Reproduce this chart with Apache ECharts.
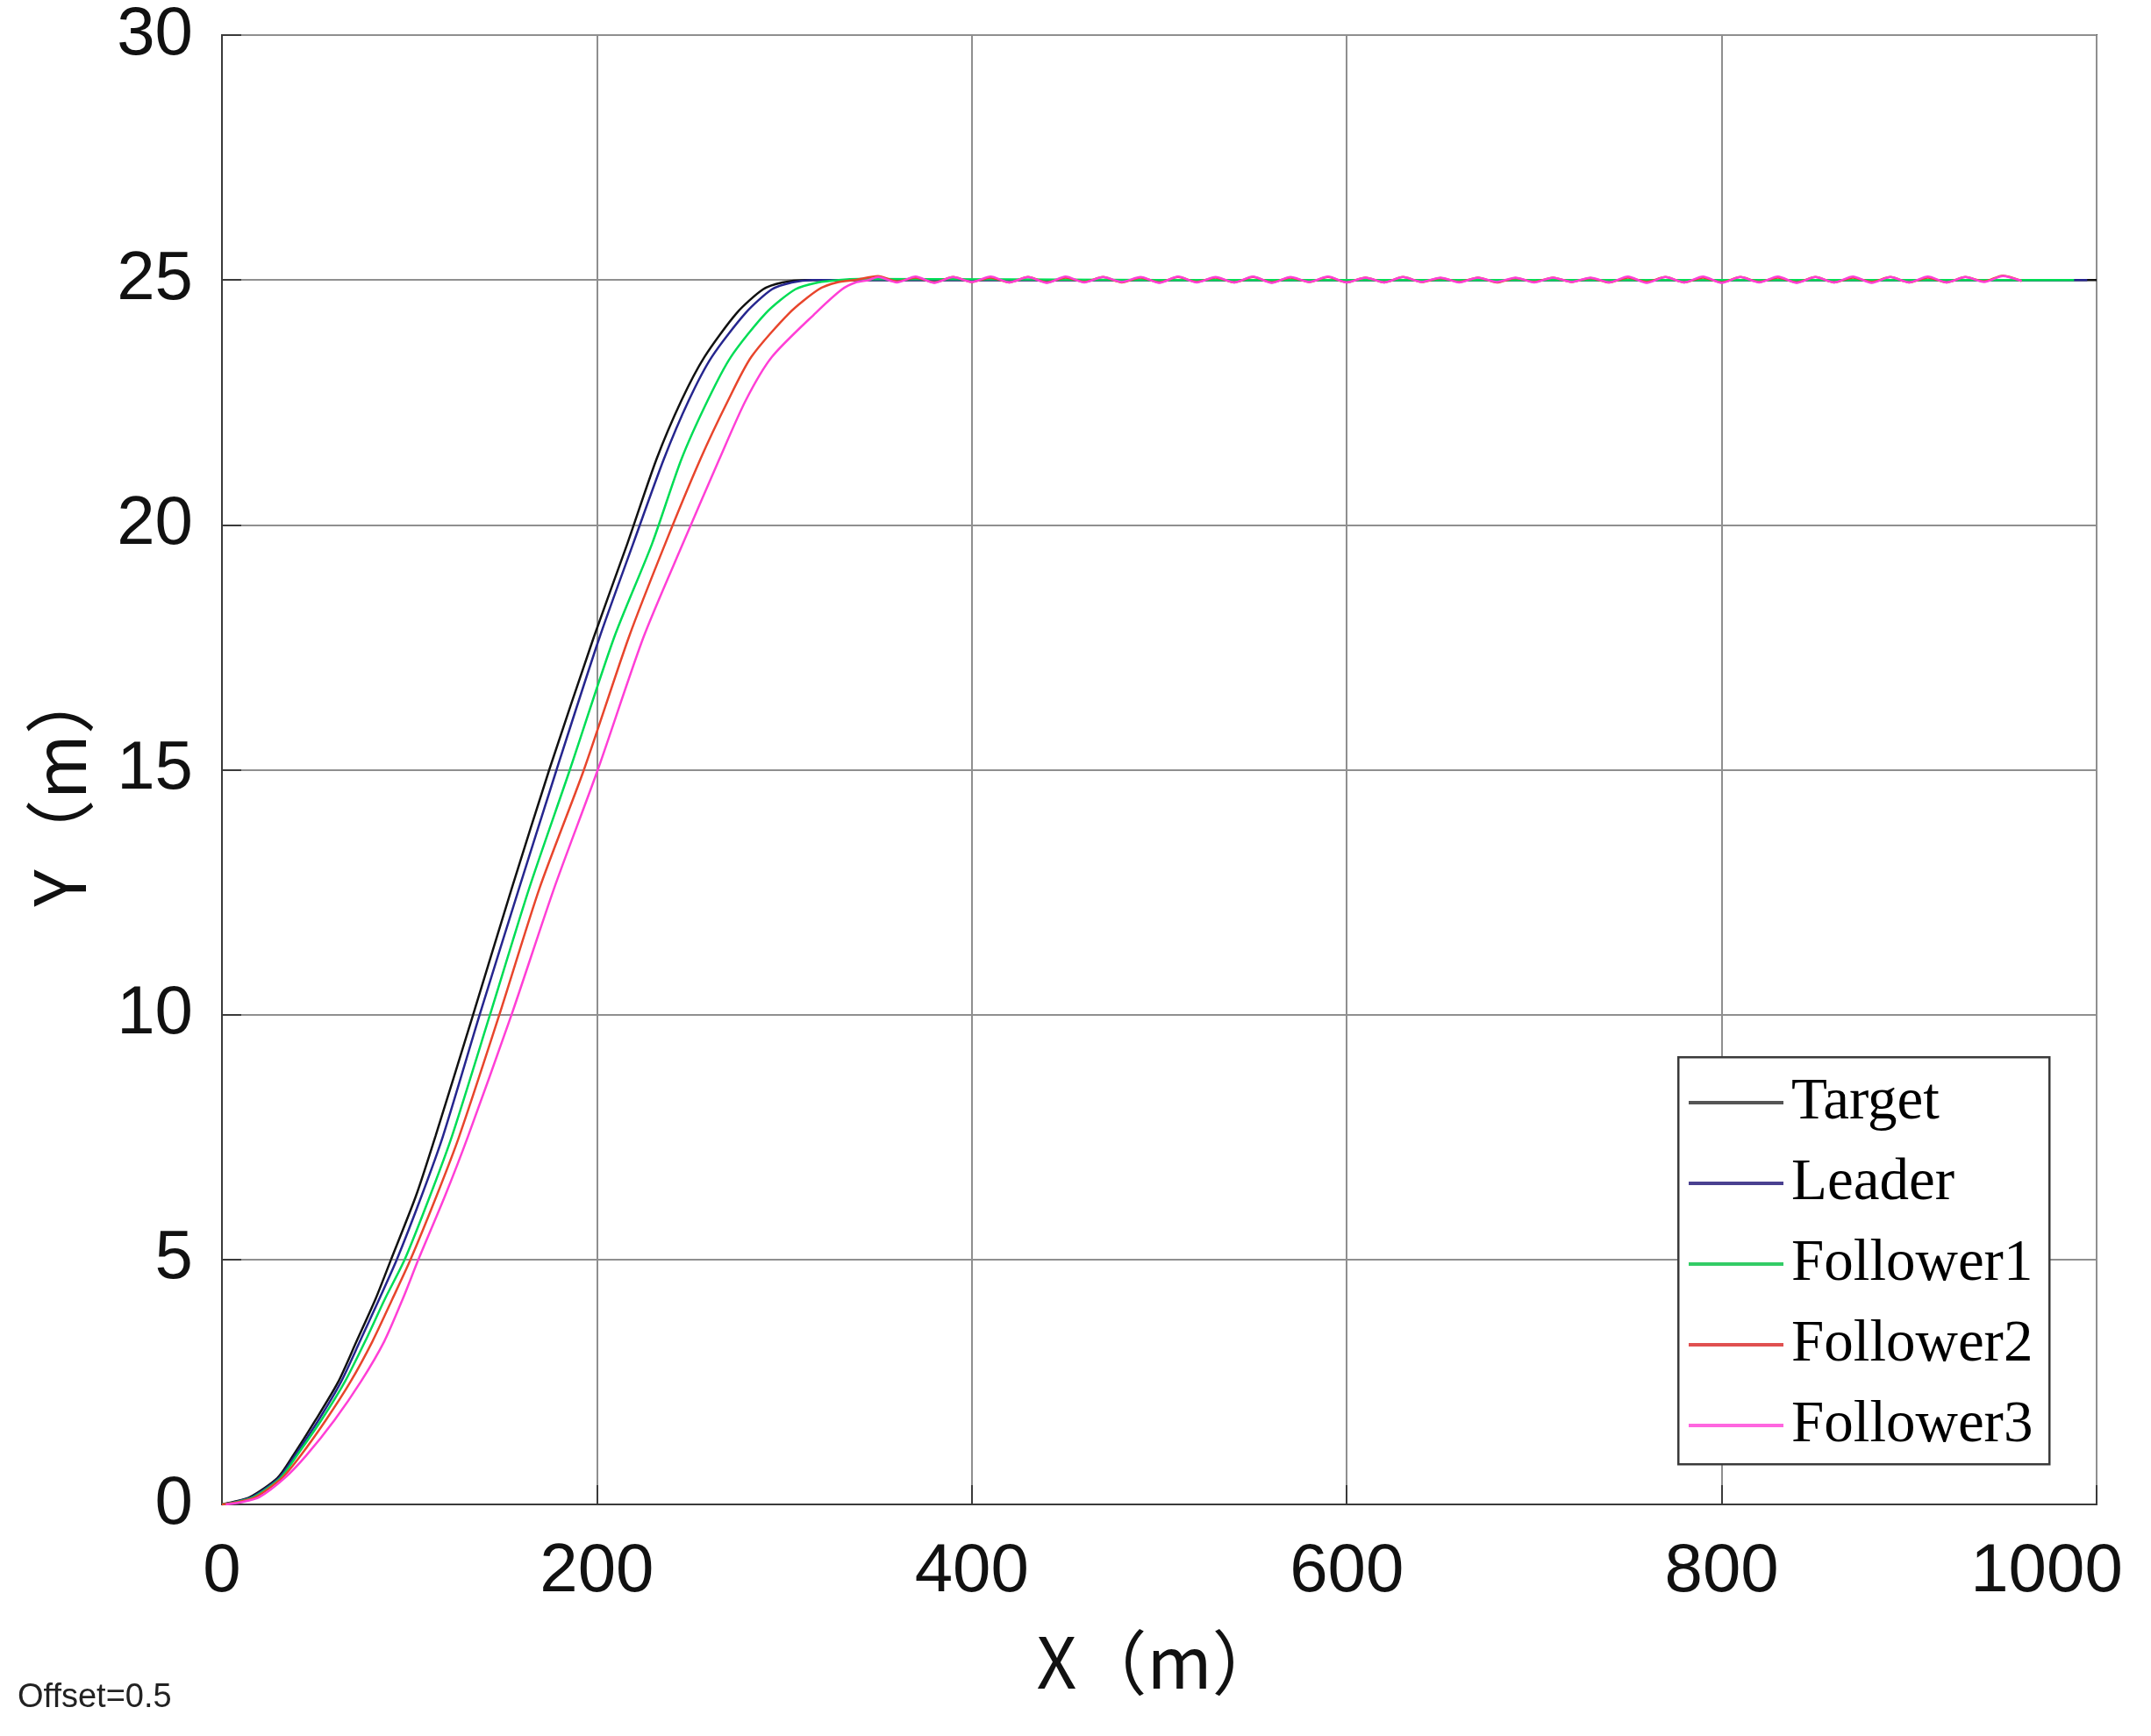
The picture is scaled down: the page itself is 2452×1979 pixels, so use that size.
<!DOCTYPE html>
<html>
<head>
<meta charset="utf-8">
<script src="https://cdn.jsdelivr.net/npm/echarts@6/dist/echarts.min.js"></script>
<style>
html,body{margin:0;padding:0;background:#fff;}
#chart{width:2452px;height:1979px;}
</style>
</head>
<body>
<div id="chart"></div>
<script>
// ---- data ----
var seriesNames = ['Target', 'Leader', 'Follower1', 'Follower2', 'Follower3'];
var xTicks = [0, 200, 400, 600, 800, 1000];
var yTicks = [0, 5, 10, 15, 20, 25, 30];

// shared Y levels of the rising part
var yRise = [0, 0.05, 0.15, 0.54, 1.0, 1.72, 2.5, 3.33, 4.2, 5, 6.3, 7.53, 10, 12.58, 15, 17.7, 19.61, 21.34, 22.54, 23.43, 24.33, 24.81, 24.95, 25];
var targetXRise = [0, 6, 15, 29.6, 38, 49.9, 62, 71.8, 82, 90.2, 103.5, 114, 134, 154.6, 174.6, 198.3, 216.2, 231.8, 245.1, 257.4, 274.7, 288.7, 299, 311];
var leaderXRise = [0, 7, 16, 30.4, 39, 51.5, 63.5, 73.6, 84, 93.3, 106.5, 118, 137.5, 158.5, 178.5, 201.4, 219.3, 235.7, 249, 261.3, 279.4, 293.4, 304, 315];
var f1XRise = [0, 8, 17, 31.2, 40, 53, 65.5, 76.4, 87, 97.5, 111, 122.8, 143, 163.9, 185.6, 209.2, 229.4, 245.1, 259.1, 271.5, 290.3, 305.9, 318, 329];
var f2XRise = [0, 9, 18, 32, 42, 55.4, 68.5, 80.3, 91, 100.6, 114.5, 126.7, 148, 169.4, 193.1, 217, 236.4, 255.2, 270, 282.4, 302.8, 318.4, 328, 337.8];
var f3XRise = [2, 11, 20, 33.5, 45, 60, 74, 86.6, 96.5, 104.8, 119, 131.4, 154.5, 177.2, 200.5, 224.8, 245.8, 265.3, 279.4, 293.4, 316.8, 330.8, 338, 345];

// flat (steady) part
var targetFlatX = [330, 1000];
var targetFlatY = [25, 25];
var leaderFlatX = [335, 995];
var leaderFlatY = [25, 25];
var f1FlatX = [340, 500, 700, 988];
var f1FlatY = [25.02, 25, 25, 25];
var flatX = [350,360,370,380,390,400,410,420,430,440,450,460,470,480,490,500,510,520,530,540,550,560,570,580,590,600,610,620,630,640,650,660,670,680,690,700,710,720,730,740,750,760,770,780,790,800,810,820,830,840,850,860,870,880,890,900,910,920,930,940,950,960];
var f2FlatY = [25.08,24.97,25.05,24.95,25.06,24.96,25.05,24.95,25.06,24.95,25.05,24.96,25.06,24.95,25.05,24.95,25.06,24.96,25.05,24.95,25.06,24.95,25.05,24.96,25.06,24.95,25.05,24.95,25.06,24.96,25.04,24.96,25.05,24.95,25.04,24.96,25.05,24.96,25.04,24.95,25.05,24.96,25.06,24.95,25.05,24.95,25.06,24.96,25.05,24.95,25.06,24.95,25.05,24.96,25.06,24.95,25.05,24.95,25.06,24.97,25.09,24.98];
var f3FlatY = [25.06,24.95,25.07,24.94,25.06,24.96,25.07,24.95,25.06,24.94,25.07,24.95,25.06,24.96,25.06,24.94,25.07,24.95,25.06,24.95,25.07,24.94,25.06,24.96,25.07,24.95,25.05,24.95,25.06,24.96,25.05,24.95,25.05,24.96,25.05,24.95,25.05,24.96,25.05,24.95,25.07,24.94,25.06,24.95,25.07,24.94,25.06,24.95,25.07,24.94,25.06,24.95,25.07,24.94,25.06,24.95,25.07,24.95,25.06,24.96,25.08,24.98];

var colors = ['#111111', '#26268f', '#00dd55', '#e8452c', '#ff3fd6'];
var legendColors = ['#555555', '#4a4090', '#33cc66', '#e05050', '#ff66e0'];

function zip(xs, ys) {
  var n = Math.min(xs.length, ys.length), out = [];
  for (var i = 0; i < n; i++) out.push([xs[i], ys[i]]);
  return out;
}
var seriesData = [
  zip(targetXRise, yRise).concat(zip(targetFlatX, targetFlatY)),
  zip(leaderXRise, yRise).concat(zip(leaderFlatX, leaderFlatY)),
  zip(f1XRise, yRise).concat(zip(f1FlatX, f1FlatY)),
  zip(f2XRise, yRise).concat(zip(flatX, f2FlatY)),
  zip(f3XRise, yRise).concat(zip(flatX, f3FlatY))
];

var chart = echarts.init(document.getElementById('chart'), null, {renderer: 'canvas'});
var tickFont = 'Liberation Sans, Arial, sans-serif';
var option = {
  backgroundColor: '#ffffff',
  animation: false,
  grid: {left: 253, right: 62, top: 40, bottom: 264, show: true, borderColor: '#3a3a3a', borderWidth: 2, backgroundColor: 'transparent'},
  xAxis: {
    type: 'value', min: 0, max: 1000, interval: 200,
    name: 'X（m）', nameLocation: 'middle', nameGap: 140,
    nameTextStyle: {fontSize: 80, color: '#111', fontFamily: 'Noto Sans CJK SC, sans-serif'},
    axisLine: {show: true, lineStyle: {color: '#3a3a3a', width: 2}},
    axisTick: {show: true, inside: true, length: 22, lineStyle: {color: '#3a3a3a', width: 2}},
    splitLine: {show: true, lineStyle: {color: '#8f8f8f', width: 2}},
    axisLabel: {
      margin: 38, fontSize: 78, color: '#111', fontFamily: tickFont,
      formatter: function (v) { return v === 1000 ? '{last|1000}' : String(v); },
      rich: {last: {fontSize: 78, color: '#111', fontFamily: tickFont, padding: [0, 114, 0, 0]}}
    }
  },
  yAxis: {
    type: 'value', min: 0, max: 30, interval: 5,
    name: 'Y（m）', nameLocation: 'middle', nameGap: 145, nameRotate: 90,
    nameTextStyle: {fontSize: 80, color: '#111', fontFamily: 'Noto Sans CJK SC, sans-serif', padding: [0, 36, 0, 0]},
    axisLine: {show: true, lineStyle: {color: '#3a3a3a', width: 2}},
    axisTick: {show: true, inside: true, length: 22, lineStyle: {color: '#3a3a3a', width: 2}},
    splitLine: {show: true, lineStyle: {color: '#8f8f8f', width: 2}},
    axisLabel: {margin: 33, fontSize: 78, color: '#111', fontFamily: tickFont}
  },
  legend: {
    orient: 'vertical', left: 1912, top: 1208,
    padding: [9, 20, 9, 13], itemGap: 12, itemWidth: 108, itemHeight: 4,
    icon: 'rect', backgroundColor: 'transparent', borderWidth: 0,
    textStyle: {fontSize: 67, lineHeight: 80, color: '#000', fontFamily: 'Liberation Serif, Times New Roman, serif', padding: [0, 0, 0, 4]},
    data: seriesNames.map(function (n, i) { return {name: n, itemStyle: {color: legendColors[i]}}; }),
    z: 10
  },
  graphic: [
    {type: 'rect', left: 1912, top: 1204, z: 5, shape: {width: 423, height: 464}, style: {fill: '#fff', stroke: '#3a3a3a', lineWidth: 2.5}},
    {type: 'text', left: 20, top: 1917, z: 5, style: {text: 'Offset=0.5', fontSize: 38, fill: '#222', fontFamily: tickFont}}
  ],
  series: seriesNames.map(function (n, i) {
    return {
      name: n, type: 'line', data: seriesData[i], showSymbol: false, symbol: 'none',
      smooth: 0.25,
      lineStyle: {color: colors[i], width: 2.5}, itemStyle: {color: colors[i]}, z: 2 + i, silent: true
    };
  })
};
chart.setOption(option);
</script>
</body>
</html>
